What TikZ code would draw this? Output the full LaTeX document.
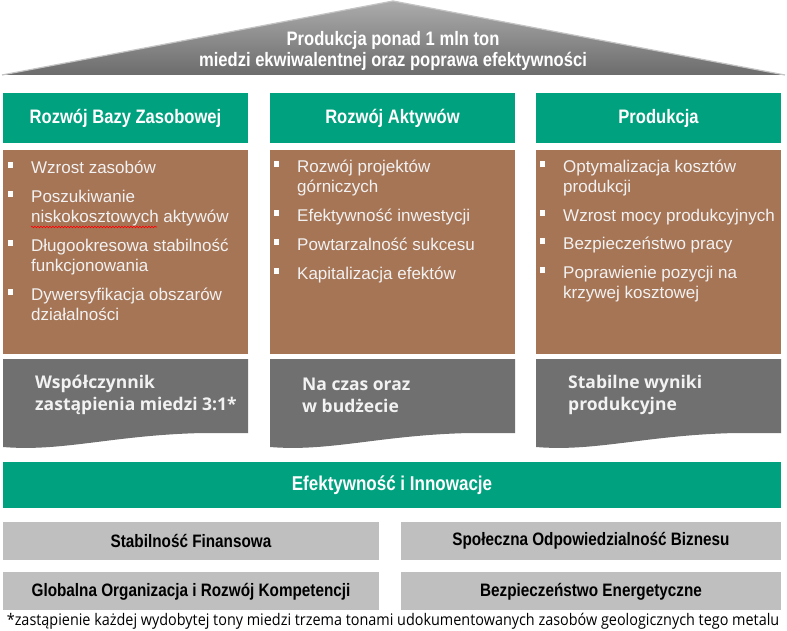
\documentclass[tikz,border=0pt]{standalone}
\usepackage{fontspec}
\setmainfont{Liberation Sans}
\newfontfamily\hdfont{Liberation Sans}[FakeStretch=0.85]
\newfontfamily\wavefont{Open Sans}
\newfontfamily\notefont{Open Sans}[FakeStretch=0.9]
\usepackage{xcolor}
\usetikzlibrary{positioning,decorations.pathmorphing}

\definecolor{kgreen}{RGB}{0,161,127}
\definecolor{kbrown}{RGB}{166,117,86}
\definecolor{kwave}{RGB}{112,112,112}
\definecolor{kpillar}{RGB}{191,191,191}
\definecolor{kroofhi}{RGB}{172,172,172}
\definecolor{kroofdk}{RGB}{108,108,108}
\definecolor{kroofedge}{RGB}{196,196,196}
\definecolor{ktext}{RGB}{242,242,242}

\newcommand\bul{\llap{\textcolor{white}{\rule[6pt]{5.5pt}{5.5pt}}\hspace{18pt}}}

\begin{document}
\begin{tikzpicture}[x=1pt, y=-1pt, node distance=7pt,
    hdr/.style={fill=kgreen, text=white, font=\hdfont\bfseries\fontsize{19.5}{22}\selectfont,
      minimum width=245, minimum height=50, inner sep=0},
    body/.style={fill=kbrown, minimum width=245, minimum height=204, inner sep=0},
    list/.style={text=ktext, font=\fontsize{17}{20}\selectfont, align=left, anchor=north west, inner sep=0},
    wavetxt/.style={text=ktext, font=\wavefont\bfseries\fontsize{17.5}{22}\selectfont, align=left, anchor=west, inner sep=0},
    pillar/.style={fill=kpillar, text=black, font=\hdfont\bfseries\fontsize{18}{20}\selectfont,
      minimum height=38, inner sep=0}]
    \useasboundingbox [fill=white] (0,0) rectangle (787,631);

    % Roof
    \shade [top color=kroofhi, bottom color=kroofdk] (2,75) -- (393,1) -- (785,75) -- cycle;
    \draw [kroofedge, line width=1.2pt, line join=round] (2,75) -- (393,1) -- (785,75);
    \node [text=white, font=\hdfont\bfseries\fontsize{19.5}{21.5}\selectfont, align=center] (roof) at (393,51)
      {Produkcja ponad 1 mln ton\\miedzi ekwiwalentnej oraz poprawa efektywności};

    % Headers
    \node [hdr] (h1) at (125.5,118) {Rozwój Bazy Zasobowej};
    \node [hdr] (h2) at (392.5,118) {Rozwój Aktywów};
    \node [hdr] (h3) at (658.5,118) {Produkcja};

    % Bodies
    \node [body, below=of h1] (b1) {};
    \node [body, below=of h2] (b2) {};
    \node [body, below=of h3] (b3) {};

    \node [list] (l1) at (31,161) {\bul Wzrost zasobów\\[9pt]
      \bul Poszukiwanie\\niskokosztowych aktywów\\[9pt]
      \bul Długookresowa stabilność\\funkcjonowania\\[9pt]
      \bul Dywersyfikacja obszarów\\działalności};
    \draw [red, line width=0.6pt, decorate, decoration={snake, amplitude=0.8pt, segment length=3pt}]
      (31,227) -- (157,227);
    \node [list] (l2) at (297,160) {\bul Rozwój projektów\\górniczych\\[9pt]
      \bul Efektywność inwestycji\\[9pt]
      \bul Powtarzalność sukcesu\\[9pt]
      \bul Kapitalizacja efektów};
    \node [list] (l3) at (563,160) {\bul Optymalizacja kosztów\\produkcji\\[9pt]
      \bul Wzrost mocy produkcyjnych\\[8pt]
      \bul Bezpieczeństwo pracy\\[9pt]
      \bul Poprawienie pozycji na\\krzywej kosztowej};

    % Waves
    \foreach \x in {3,270,536} {
      \fill [kwave] (\x,359) -- ({\x+245},359) -- ({\x+245},433) -- ({\x+200},433)
        .. controls ({\x+110},435) and ({\x+60},452) .. (\x,447) -- cycle;
    }
    \node [wavetxt] (w1) at (35,395) {Współczynnik\\zastąpienia miedzi 3:1*};
    \node [wavetxt] (w2) at (302,395) {Na czas oraz\\w budżecie};
    \node [wavetxt] (w3) at (568,395) {Stabilne wyniki\\produkcyjne};

    % Base
    \node [fill=kgreen, text=white, font=\hdfont\bfseries\fontsize{20}{22}\selectfont,
      minimum width=778, minimum height=46, inner sep=0] (base) at (392,485) {Efektywność i Innowacje};
    \node [pillar, minimum width=376] (p1) at (191,541) {Stabilność Finansowa};
    \node [pillar, minimum width=380] (p2) at (591,541) {Społeczna Odpowiedzialność Biznesu};
    \node [pillar, minimum width=376, below=12pt of p1] (p3) {Globalna Organizacja i Rozwój Kompetencji};
    \node [pillar, minimum width=380, below=12pt of p2] (p4) {Bezpieczeństwo Energetyczne};

    \node [font=\notefont\fontsize{16}{18}\selectfont, inner sep=0] (note) at (393,621)
      {*zastąpienie każdej wydobytej tony miedzi trzema tonami udokumentowanych zasobów geologicznych tego metalu};
\end{tikzpicture}
\end{document}
